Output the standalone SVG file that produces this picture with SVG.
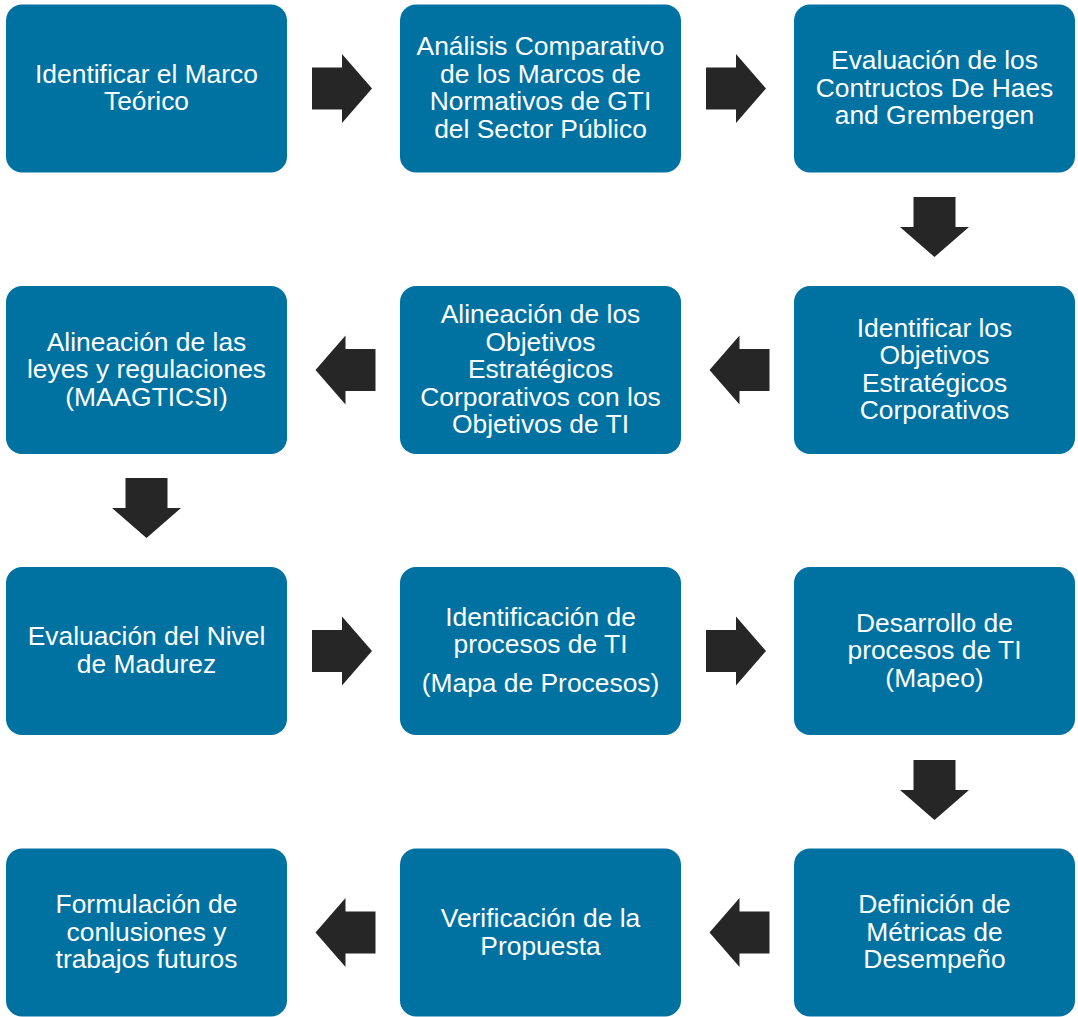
<svg xmlns="http://www.w3.org/2000/svg" xmlns:xlink="http://www.w3.org/1999/xlink" width="1078" height="1017" viewBox="0 0 1078 1017">
<style>
.box{fill:#0072A2}
.t{font-family:"Liberation Sans",Arial,sans-serif;font-size:26.4px;fill:#fff;text-anchor:middle}
.arr{fill:#262626}
</style>
<defs>
<path id="ar" d="M-30,-21 H0 V-34.5 L30,0 L0,34.5 V21 H-30 Z"/>
</defs>
<rect width="1078" height="1017" fill="#fff"/>
<g id="connectors" class="arr">
<use xlink:href="#ar" transform="translate(342,88.5)"/>
<use xlink:href="#ar" transform="translate(736,88.5)"/>
<use xlink:href="#ar" transform="translate(934.5,227) rotate(90)"/>
<use xlink:href="#ar" transform="translate(739.5,370) scale(-1,1)"/>
<use xlink:href="#ar" transform="translate(345.5,370) scale(-1,1)"/>
<use xlink:href="#ar" transform="translate(146.5,508) rotate(90)"/>
<use xlink:href="#ar" transform="translate(342,651)"/>
<use xlink:href="#ar" transform="translate(736,651)"/>
<use xlink:href="#ar" transform="translate(934.5,790) rotate(90)"/>
<use xlink:href="#ar" transform="translate(739.5,932.5) scale(-1,1)"/>
<use xlink:href="#ar" transform="translate(345.5,932.5) scale(-1,1)"/>
</g>
<g id="n1"><rect class="box" x="6" y="4.5" width="281" height="168" rx="16"/>
<text class="t" x="146.5"><tspan x="146.5" y="82.75">Identificar el Marco</tspan><tspan x="146.5" y="110.25">Teórico</tspan></text></g>
<g id="n2"><rect class="box" x="400" y="4.5" width="281" height="168" rx="16"/>
<text class="t"><tspan x="540.5" y="55.25">Análisis Comparativo</tspan><tspan x="540.5" y="82.75">de los Marcos de</tspan><tspan x="540.5" y="110.25">Normativos de GTI</tspan><tspan x="540.5" y="137.75">del Sector Público</tspan></text></g>
<g id="n3"><rect class="box" x="794" y="4.5" width="281" height="168" rx="16"/>
<text class="t"><tspan x="934.5" y="69">Evaluación de los</tspan><tspan x="934.5" y="96.5">Contructos De Haes</tspan><tspan x="934.5" y="124">and Grembergen</tspan></text></g>
<g id="n4"><rect class="box" x="794" y="286" width="281" height="168" rx="16"/>
<text class="t"><tspan x="934.5" y="336.75">Identificar los</tspan><tspan x="934.5" y="364.25">Objetivos</tspan><tspan x="934.5" y="391.75">Estratégicos</tspan><tspan x="934.5" y="419.25">Corporativos</tspan></text></g>
<g id="n5"><rect class="box" x="400" y="286" width="281" height="168" rx="16"/>
<text class="t"><tspan x="540.5" y="323">Alineación de los</tspan><tspan x="540.5" y="350.5">Objetivos</tspan><tspan x="540.5" y="378">Estratégicos</tspan><tspan x="540.5" y="405.5">Corporativos con los</tspan><tspan x="540.5" y="433">Objetivos de TI</tspan></text></g>
<g id="n6"><rect class="box" x="6" y="286" width="281" height="168" rx="16"/>
<text class="t"><tspan x="146.5" y="350.5">Alineación de las</tspan><tspan x="146.5" y="378">leyes y regulaciones</tspan><tspan x="146.5" y="405.5">(MAAGTICSI)</tspan></text></g>
<g id="n7"><rect class="box" x="6" y="567" width="281" height="168" rx="16"/>
<text class="t"><tspan x="146.5" y="645.25">Evaluación del Nivel</tspan><tspan x="146.5" y="672.75">de Madurez</tspan></text></g>
<g id="n8"><rect class="box" x="400" y="567" width="281" height="168" rx="16"/>
<text class="t"><tspan x="540.5" y="625.75">Identificación de</tspan><tspan x="540.5" y="653.25">procesos de TI</tspan><tspan x="540.5" y="691.5">(Mapa de Procesos)</tspan></text></g>
<g id="n9"><rect class="box" x="794" y="567" width="281" height="168" rx="16"/>
<text class="t"><tspan x="934.5" y="631.5">Desarrollo de</tspan><tspan x="934.5" y="659">procesos de TI</tspan><tspan x="934.5" y="686.5">(Mapeo)</tspan></text></g>
<g id="n10"><rect class="box" x="794" y="848.5" width="281" height="168" rx="16"/>
<text class="t"><tspan x="934.5" y="913">Definición de</tspan><tspan x="934.5" y="940.5">Métricas de</tspan><tspan x="934.5" y="968">Desempeño</tspan></text></g>
<g id="n11"><rect class="box" x="400" y="848.5" width="281" height="168" rx="16"/>
<text class="t"><tspan x="540.5" y="927">Verificación de la</tspan><tspan x="540.5" y="954.5">Propuesta</tspan></text></g>
<g id="n12"><rect class="box" x="6" y="848.5" width="281" height="168" rx="16"/>
<text class="t"><tspan x="146.5" y="913">Formulación de</tspan><tspan x="146.5" y="940.5">conlusiones y</tspan><tspan x="146.5" y="968">trabajos futuros</tspan></text></g>
</svg>
